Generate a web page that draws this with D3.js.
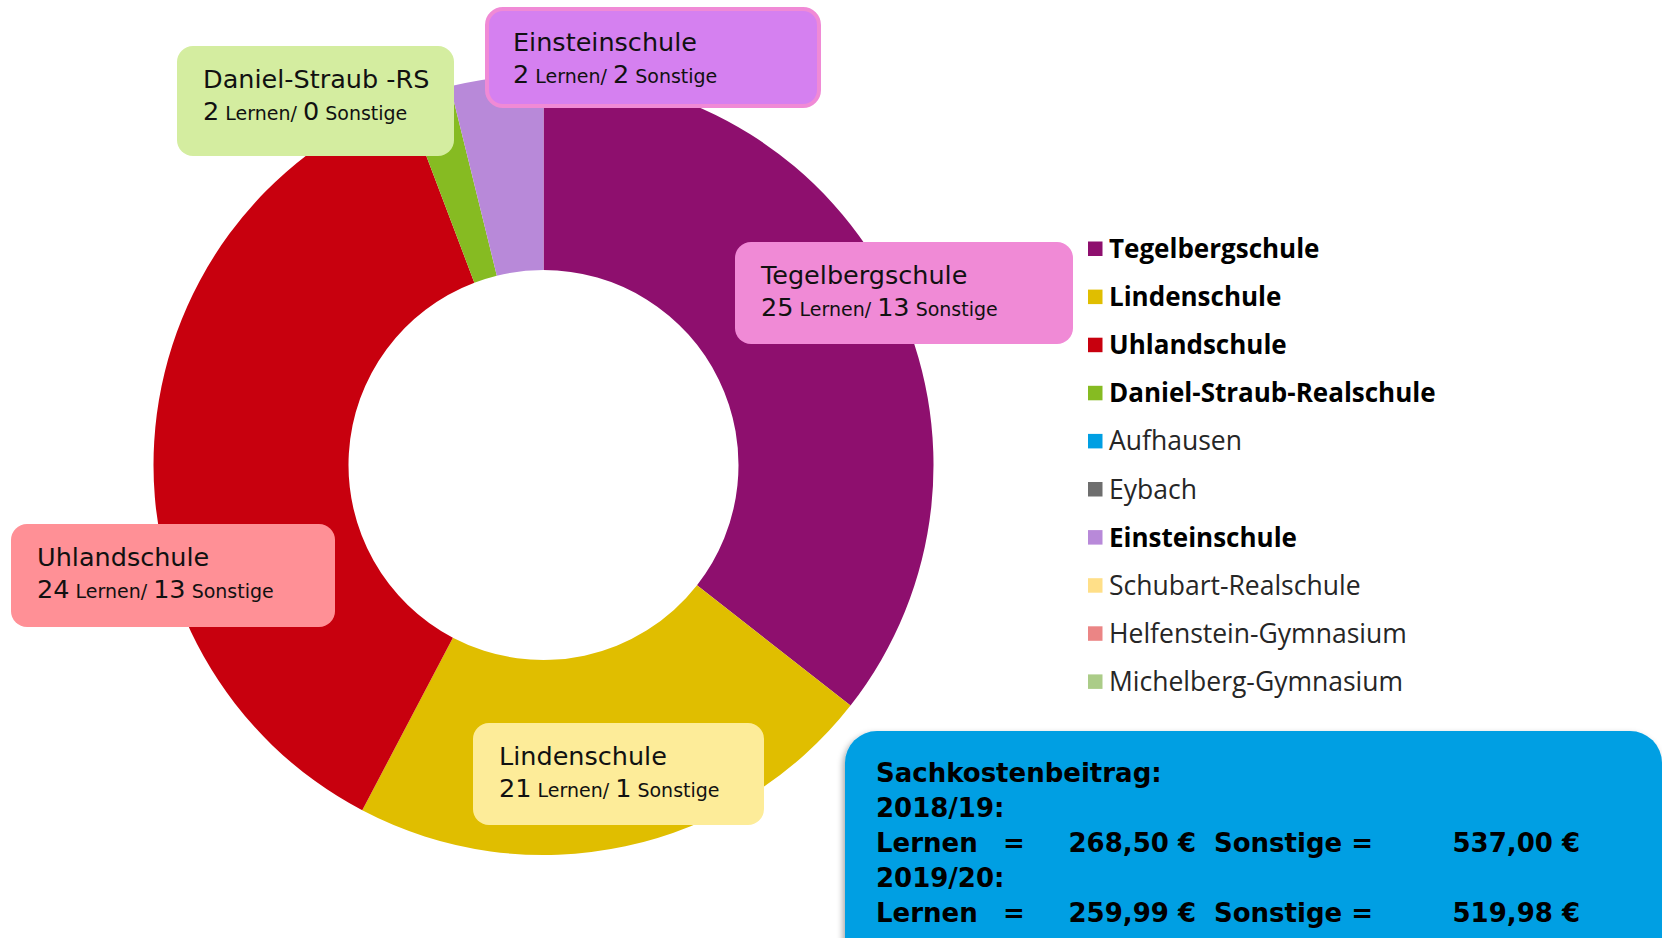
<!doctype html>
<html>
<head>
<meta charset="utf-8">
<script src="https://d3js.org/d3.v7.min.js"></script>
<style>
  body { margin: 0; background: #fff; }
  .call { font-family: "DejaVu Sans", sans-serif; fill: #111; }
  .leg { font-family: "Open Sans", sans-serif; }
  .cost { font-family: "DejaVu Sans", sans-serif; font-weight: bold; font-size: 26px; fill: #000; }
</style>
</head>
<body>
<svg width="1662" height="938"></svg>
<script>
// slices, in legend order (zero-value schools still listed)
var schools = ["Tegelbergschule", "Lindenschule", "Uhlandschule", "Daniel-Straub-Realschule", "Aufhausen",
               "Eybach", "Einsteinschule", "Schubart-Realschule", "Helfenstein-Gymnasium", "Michelberg-Gymnasium"];
var pupils = [37, 23, 38, 2, 0, 0, 4, 0, 0, 0];
var colors = ["#8e0f6e", "#e0be00", "#c8000e", "#86bb22", "#009fe3",
              "#6e6e6e", "#b889d9", "#ffdf88", "#eb8585", "#abcc88"];

// callout labels
var calloutNames = ["Tegelbergschule", "Lindenschule", "Uhlandschule", "Daniel-Straub -RS", "Einsteinschule"];
var lernen = [25, 21, 24, 2, 2];
var sonstige = [13, 1, 13, 0, 2];

// cost box
var costYears = ["2018/19:", "2019/20:"];
var costLernen = ["268,50 €", "259,99 €"];
var costSonstige = ["537,00 €", "519,98 €"];

var svg = d3.select("svg");
var cx = 543.5, cy = 465, R = 390, r = 195;

var pie = d3.pie().sort(null).value(function(d) { return d; });
var arc = d3.arc().outerRadius(R).innerRadius(r);

svg.append("g")
   .attr("transform", "translate(" + cx + "," + cy + ")")
   .selectAll("path")
   .data(pie(pupils))
   .enter().append("path")
   .attr("d", arc)
   .attr("fill", function(d, i) { return colors[i]; });

// callout boxes: x, y, w, h, fill, stroke
var boxes = [
  [735, 242, 338, 102, "#f08ad6", null],
  [473, 723, 291, 102, "#fdec99", null],
  [11, 524, 324, 103, "#ff9096", null],
  [177, 46, 277, 110, "#d4eda0", null],
  [487, 9, 332, 97, "#d580f0", "#f08ad6"]
];

var cg = svg.selectAll(".callout")
  .data(calloutNames)
  .enter().append("g")
  .attr("class", "callout")
  .attr("transform", function(d, i) { return "translate(" + boxes[i][0] + "," + boxes[i][1] + ")"; });

cg.append("rect")
  .attr("width", function(d, i) { return boxes[i][2]; })
  .attr("height", function(d, i) { return boxes[i][3]; })
  .attr("rx", 16)
  .attr("fill", function(d, i) { return boxes[i][4]; })
  .attr("stroke", function(d, i) { return boxes[i][5] || "none"; })
  .attr("stroke-width", 4);

cg.append("text")
  .attr("class", "call")
  .attr("x", 26).attr("y", 42)
  .attr("font-size", 25.5)
  .text(function(d) { return d; });

var l2 = cg.append("text")
  .attr("class", "call")
  .attr("x", 26).attr("y", 74);
l2.append("tspan").attr("font-size", 25.5).text(function(d, i) { return lernen[i]; });
l2.append("tspan").attr("font-size", 19).text(" Lernen/ ");
l2.append("tspan").attr("font-size", 25.5).text(function(d, i) { return sonstige[i]; });
l2.append("tspan").attr("font-size", 19).text(" Sonstige");

// legend
var leg = svg.append("g").attr("transform", "translate(1088,249)");
var li = leg.selectAll("g")
  .data(schools)
  .enter().append("g")
  .attr("transform", function(d, i) { return "translate(0," + (i * 48.1) + ")"; });
li.append("rect")
  .attr("x", 0).attr("y", -7.5)
  .attr("width", 14.5).attr("height", 14.5)
  .attr("fill", function(d, i) { return colors[i]; });
li.append("text")
  .attr("class", "leg")
  .attr("x", 21).attr("y", 9)
  .attr("font-size", function(d, i) { return pupils[i] > 0 ? 26 : 26.5; })
  .attr("font-weight", function(d, i) { return pupils[i] > 0 ? "bold" : "normal"; })
  .attr("fill", function(d, i) { return pupils[i] > 0 ? "#000" : "#262626"; })
  .text(function(d) { return d; });

// cost box
var defs = svg.append("defs");
var f = defs.append("filter").attr("id", "sh").attr("x", "-5%").attr("y", "-5%").attr("width", "110%").attr("height", "120%");
f.append("feDropShadow").attr("dx", -2).attr("dy", 3).attr("stdDeviation", 3).attr("flood-color", "#000").attr("flood-opacity", 0.35);

svg.append("rect")
  .attr("x", 845).attr("y", 731)
  .attr("width", 817).attr("height", 240)
  .attr("rx", 32)
  .attr("fill", "#009fe3")
  .attr("filter", "url(#sh)");

var cost = svg.append("g").attr("class", "cost");
cost.append("text").attr("x", 876).attr("y", 782).text("Sachkostenbeitrag:");
costYears.forEach(function(y, i) {
  var base = 817 + i * 70;
  cost.append("text").attr("x", 876).attr("y", base).text(y);
  cost.append("text").attr("x", 876).attr("y", base + 35).text("Lernen");
  cost.append("text").attr("x", 1003).attr("y", base + 35).text("=");
  cost.append("text").attr("x", 1196).attr("y", base + 35).attr("text-anchor", "end").text(costLernen[i]);
  cost.append("text").attr("x", 1214).attr("y", base + 35).text("Sonstige =");
  cost.append("text").attr("x", 1580).attr("y", base + 35).attr("text-anchor", "end").text(costSonstige[i]);
});
</script>
</body>
</html>
